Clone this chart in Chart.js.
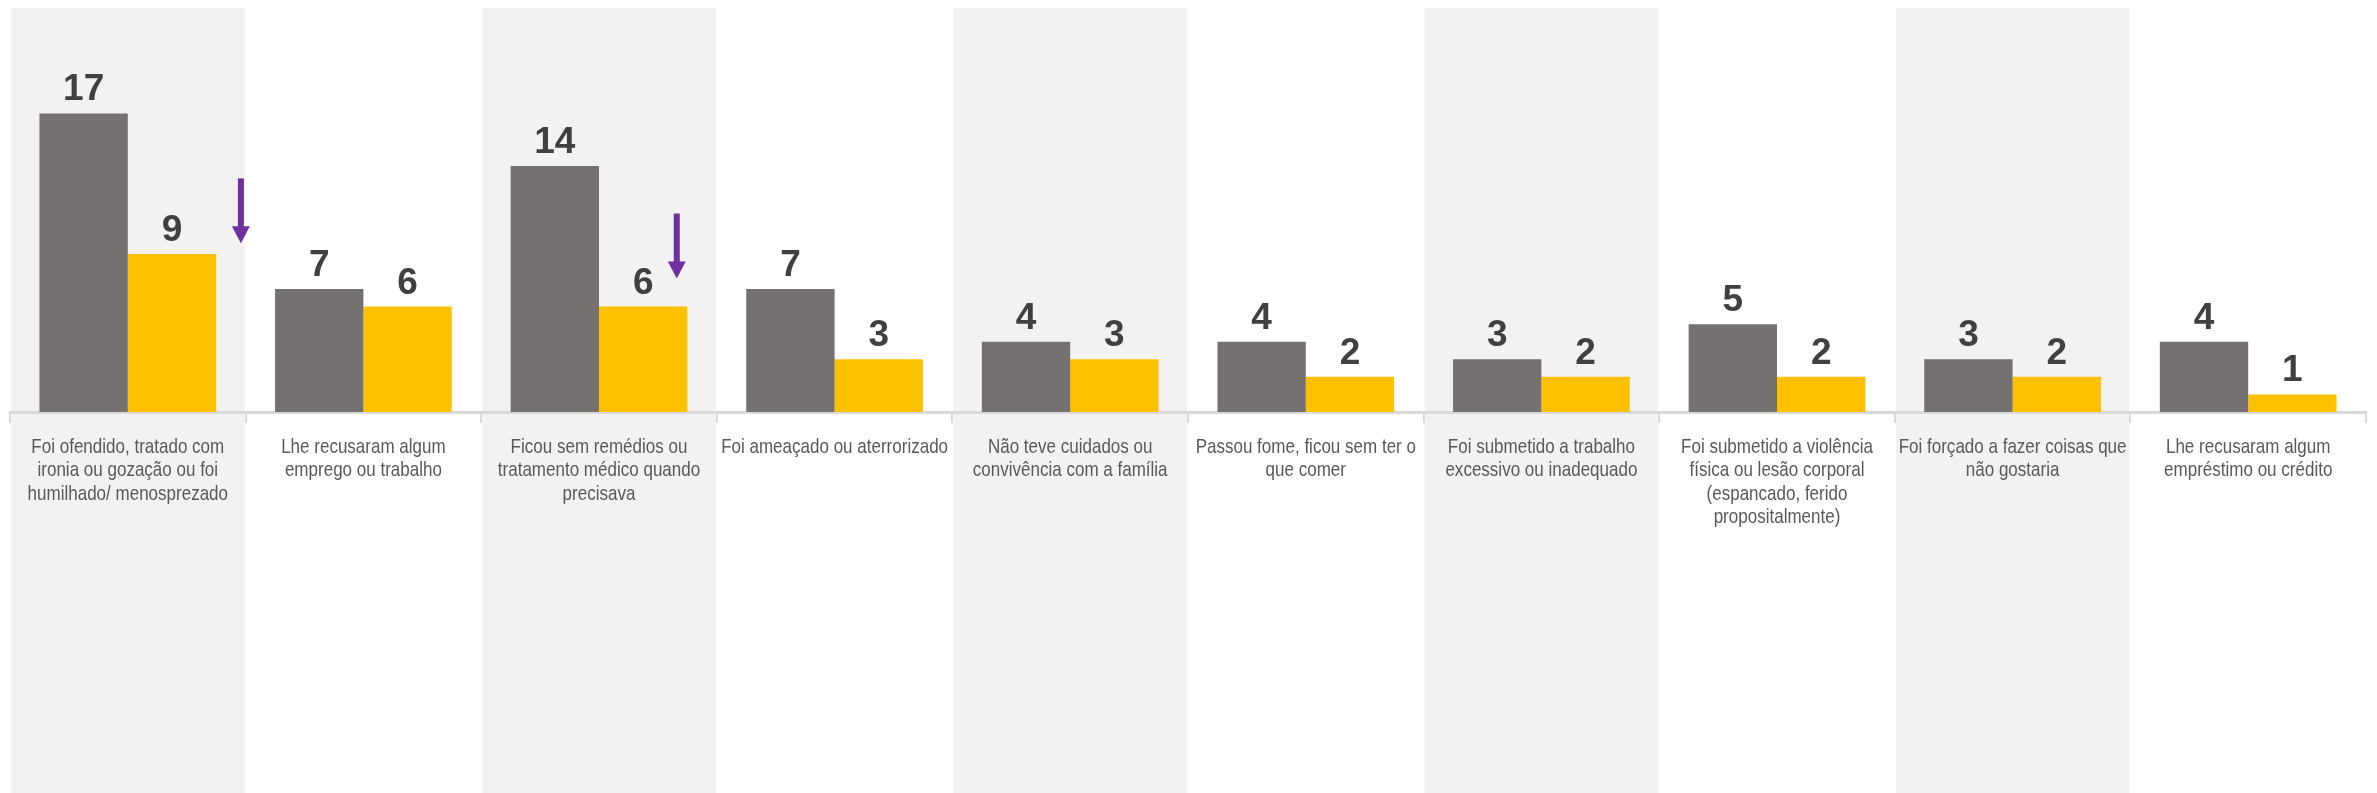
<!DOCTYPE html>
<html>
<head>
<meta charset="utf-8">
<script src="https://cdn.jsdelivr.net/npm/chart.js@4/dist/chart.umd.min.js"></script>
<style>
  html, body { margin: 0; padding: 0; background: #fff; }
  #wrap { width: 2377px; height: 793px; }
</style>
</head>
<body>
<div id="wrap"><canvas id="chart" width="2377" height="793"></canvas></div>
<script>
// categories (already split in lines like the original)
const categories = [
    ['Foi ofendido, tratado com', 'ironia ou gozação ou foi', 'humilhado/ menosprezado'],
    ['Lhe recusaram algum', 'emprego ou trabalho'],
    ['Ficou sem remédios ou', 'tratamento médico quando', 'precisava'],
    ['Foi ameaçado ou aterrorizado'],
    ['Não teve cuidados ou', 'convivência com a família'],
    ['Passou fome, ficou sem ter o', 'que comer'],
    ['Foi submetido a trabalho', 'excessivo ou inadequado'],
    ['Foi submetido a violência', 'física ou lesão corporal', '(espancado, ferido', 'propositalmente)'],
    ['Foi forçado a fazer coisas que', 'não gostaria'],
    ['Lhe recusaram algum', 'empréstimo ou crédito']
];
const seriesGray = [17, 7, 14, 7, 4, 4, 3, 5, 3, 4];
const seriesYellow = [9, 6, 6, 3, 3, 2, 2, 2, 2, 1];

// down arrows: category index, position inside the category, from/to value
const arrowCats = [0, 2];
const arrowShift = [0.48, 0.33];
const arrowFrom = [13.3, 11.3];
const arrowTo = [9.6, 7.6];

const colGray = '#767171';
const colYellow = '#FFC000';
const colBand = '#F2F2F2';
const colArrow = '#7030A0';

// shaded columns behind every other category
const bandsPlugin = {
    id: 'bands',
    beforeDraw(chart) {
        const ctx = chart.ctx;
        const x = chart.scales.x;
        const area = chart.chartArea;
        ctx.save();
        ctx.fillStyle = '#ffffff';
        ctx.fillRect(0, 0, chart.width, chart.height);
        const w = x.getPixelForValue(1) - x.getPixelForValue(0);
        ctx.fillStyle = colBand;
        for (let i = 0; i < categories.length; i += 2) {
            const cx = x.getPixelForValue(i);
            ctx.fillRect(cx - w / 2 + 1, area.top, w - 2, chart.height - area.top);
        }
        ctx.restore();
    }
};

// category labels in a narrow face (no Arial Narrow here, so squeeze it)
const catLabelsPlugin = {
    id: 'catLabels',
    afterDraw(chart) {
        const ctx = chart.ctx;
        const x = chart.scales.x;
        const base = chart.chartArea.bottom;
        ctx.save();
        ctx.font = '21px "Liberation Sans", Arial, sans-serif';
        ctx.fillStyle = '#595959';
        ctx.textAlign = 'center';
        ctx.textBaseline = 'middle';
        categories.forEach((lines, i) => {
            const cx = x.getPixelForValue(i);
            lines.forEach((line, k) => {
                ctx.save();
                ctx.translate(cx, base + 35 + k * 23.5);
                ctx.scale(0.81, 1);
                ctx.fillText(line, 0, 0);
                ctx.restore();
            });
        });
        ctx.restore();
    }
};

// value labels + arrows
const labelsPlugin = {
    id: 'valLabels',
    afterDatasetsDraw(chart) {
        const ctx = chart.ctx;
        ctx.save();
        ctx.font = 'bold 37px "Liberation Sans", Arial, sans-serif';
        ctx.fillStyle = '#404040';
        ctx.textAlign = 'center';
        ctx.textBaseline = 'alphabetic';
        chart.data.datasets.forEach((ds, di) => {
            chart.getDatasetMeta(di).data.forEach((bar, i) => {
                ctx.fillText(String(ds.data[i]), bar.x, bar.y - 13);
            });
        });

        const x = chart.scales.x;
        const y = chart.scales.y;
        const w = x.getPixelForValue(1) - x.getPixelForValue(0);
        ctx.strokeStyle = colArrow;
        ctx.fillStyle = colArrow;
        ctx.lineWidth = 6;
        arrowCats.forEach((c, k) => {
            const ax = x.getPixelForValue(c) + arrowShift[k] * w;
            const y0 = y.getPixelForValue(arrowFrom[k]);
            const y1 = y.getPixelForValue(arrowTo[k]);
            ctx.beginPath();
            ctx.moveTo(ax, y0);
            ctx.lineTo(ax, y1 - 14);
            ctx.stroke();
            ctx.beginPath();
            ctx.moveTo(ax - 9, y1 - 17);
            ctx.lineTo(ax + 9, y1 - 17);
            ctx.lineTo(ax, y1);
            ctx.closePath();
            ctx.fill();
        });
        ctx.restore();
    }
};

new Chart(document.getElementById('chart'), {
    type: 'bar',
    data: {
        labels: categories,
        datasets: [
            { label: 'A', data: seriesGray, backgroundColor: colGray },
            { label: 'B', data: seriesYellow, backgroundColor: colYellow }
        ]
    },
    options: {
        responsive: false,
        animation: false,
        layout: { padding: { left: 10, right: 11, top: 8, bottom: 0 } },
        datasets: {
            bar: { categoryPercentage: 0.75, barPercentage: 1.0 }
        },
        plugins: {
            legend: { display: false },
            tooltip: { enabled: false }
        },
        scales: {
            x: {
                grid: {
                    offset: true,
                    drawOnChartArea: false,
                    drawTicks: true,
                    tickLength: 11,
                    color: '#D9D9D9',
                    lineWidth: 2
                },
                border: { display: true, color: '#D9D9D9', width: 3 },
                ticks: { display: false },
                afterFit(scale) { scale.height = 381; }
            },
            y: {
                display: false,
                min: 0,
                max: 23
            }
        }
    },
    plugins: [bandsPlugin, labelsPlugin, catLabelsPlugin]
});
</script>
</body>
</html>
